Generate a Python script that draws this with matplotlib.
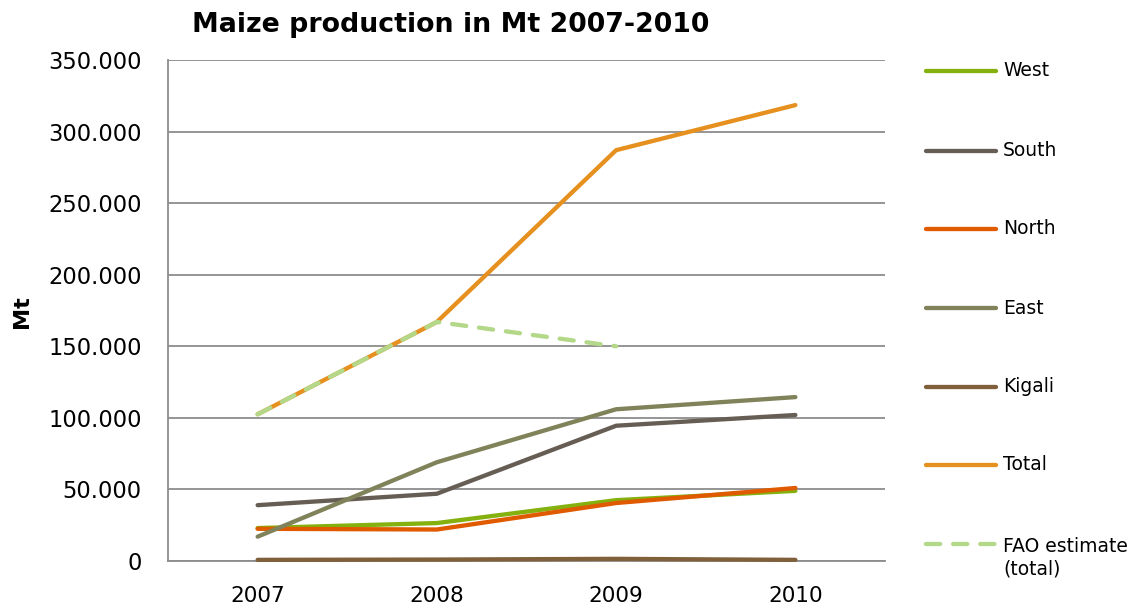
import matplotlib
matplotlib.use("Agg")
import matplotlib.pyplot as plt
from matplotlib.lines import Line2D
import numpy as np

years = ["2007", "2008", "2009", "2010"]
west = [23, 26.5, 42.5, 49]
south = [39, 47, 94.5, 102]
north = [22.5, 22, 40.5, 51]
east = [17, 69, 106, 114.5]
kigali = [0.8, 1.0, 1.5, 0.8]
total = [102.5, 167, 287, 318.5]
fao = [102.5, 167, 150, np.nan]

series_names = ["West", "South", "North", "East", "Kigali", "Total", "FAO estimate\n(total)"]
series_values = [west, south, north, east, kigali, total, fao]
colors = ["#84B10E", "#665E55", "#E05A00", "#80825A", "#80603A", "#E5901F", "#B4D889"]
styles = ["-", "-", "-", "-", "-", "-", (0, (3.3, 3.0))]

ytick_vals = [0, 50, 100, 150, 200, 250, 300, 350]
ytick_labels = ["0", "50.000", "100.000", "150.000", "200.000", "250.000", "300.000", "350.000"]

plt.rcParams["font.family"] = ["DejaVu Sans"]

W, H = 1146, 608
LW = 3.1
fig = plt.figure(figsize=(W / 100, H / 100), dpi=100)
ax = fig.add_axes([168 / W, 1 - 561 / H, (885 - 168) / W, (561 - 60) / H])

x = np.arange(len(years))
for name, vals, c, ls in zip(series_names, series_values, colors, styles):
    ax.plot(x, vals, color=c, lw=LW, linestyle=ls, solid_capstyle="round",
            dash_capstyle="round", solid_joinstyle="round", clip_on=False, zorder=3)

ax.set_xlim(-0.5, len(years) - 0.5)
ax.set_ylim(0, 350)
ax.set_xticks(x)
ax.set_xticklabels(years, fontsize=15.5)
ax.set_yticks(ytick_vals)
ax.set_yticklabels(ytick_labels, fontsize=16.3)
ax.tick_params(axis="both", length=0, colors="#000000")
ax.tick_params(axis="y", pad=19)
ax.tick_params(axis="x", pad=18)
ax.grid(axis="y", color="#8C8C8C", lw=1.3)
ax.set_axisbelow(True)
for s in ["top", "right"]:
    ax.spines[s].set_visible(False)
for s in ["left", "bottom"]:
    ax.spines[s].set_color("#8C8C8C")
    ax.spines[s].set_linewidth(1.3)

fig.text(451 / W, 1 - 25 / H, "Maize production in Mt 2007-2010", fontsize=19.3,
         fontweight="bold", ha="center", va="center")
fig.text(22 / W, 1 - 312 / H, "Mt", fontsize=16, fontweight="bold", rotation=90,
         ha="center", va="center")

# legend
leg_y = [71, 151, 229, 308, 387, 465, 544]
for name, c, ls, yy in zip(series_names, colors, styles, leg_y):
    fy = 1 - yy / H
    fig.add_artist(Line2D([926 / W, 996 / W], [fy, fy], color=c, lw=LW, linestyle=ls,
                          solid_capstyle="round", dash_capstyle="round"))
    fig.text(1003 / W, fy + (0 if "\n" not in name else -14 / H), name, fontsize=13.5,
             ha="left", va="center", linespacing=1.25)

fig.savefig("out.png", dpi=100)
